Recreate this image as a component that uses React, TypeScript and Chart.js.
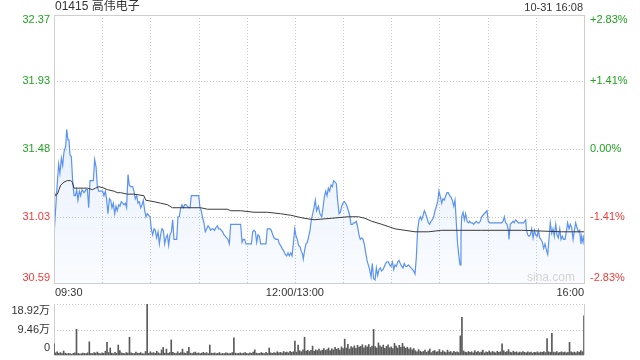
import React, { useEffect, useRef } from "react";
import { Chart, registerables } from "chart.js";

Chart.register(...registerables);

const TITLE = "01415 高伟电子";
const STAMP = "10-31 16:08";
const PRICE_MIN = 30.59;
const PRICE_MAX = 32.37;
const PRICE_TICKS = [32.37, 31.93, 31.48, 31.03, 30.59];
const PRICE_TICK_LABELS = ["32.37", "31.93", "31.48", "31.03", "30.59"];
const PCT_TICK_LABELS = ["+2.83%", "+1.41%", "0.00%", "-1.41%", "-2.83%"];
const TICK_UP = [true, true, true, false, false];
const TOTAL_MINUTES = 330;
const TIME_LABELS = ["09:30", "12:00/13:00", "16:00"];
const TIME_LABEL_MINUTES = [0, 150, 330];
const GRID_MINUTES = [30, 60, 90, 120, 150, 180, 210, 240, 270, 300];
const VOL_MAX = 18.92;
const VOL_TICKS = [18.92, 9.46, 0];
const VOL_TICK_LABELS = ["18.92万", "9.46万", "0"];

const priceMinutes = [
  0, 1.7, 2.9, 3.7, 4.6, 5.4, 6.2, 7.3, 7.9, 8.7, 9.3, 10.0, 10.8, 11.6, 12.5, 13.3, 14.1, 14.9, 15.8, 16.6,
  17.4, 18.7, 19.9, 20.8, 21.6, 22.4, 23.7, 24.5, 25.3, 26.2, 27.0, 27.8, 29.1, 30.3, 31.1, 32.0, 32.8, 33.6, 34.5, 35.3,
  36.1, 36.9, 37.8, 38.6, 39.4, 40.3, 41.1, 41.9, 42.8, 43.6, 44.4, 45.2, 46.1, 46.9, 47.7, 49.0, 49.8, 50.6, 51.5, 52.3,
  53.1, 54.0, 54.8, 55.6, 56.5, 57.3, 58.1, 58.9, 59.8, 60.6, 61.4, 62.3, 63.1, 63.9, 64.8, 65.6, 66.4, 67.2, 68.1, 68.9,
  69.7, 70.6, 71.4, 72.2, 73.1, 73.9, 74.7, 75.5, 76.4, 77.2, 78.0, 78.9, 79.7, 80.5, 81.4, 82.2, 83.0, 83.9, 84.7, 85.5,
  87.2, 88.8, 90.1, 90.9, 91.7, 92.6, 93.4, 94.2, 95.1, 95.9, 96.7, 97.5, 98.4, 99.2, 100.0, 100.9, 101.7, 102.5, 103.4, 104.2,
  105.0, 105.9, 106.7, 107.5, 108.3, 109.2, 110.0, 112.1, 114.2, 116.2, 117.1, 117.9, 118.7, 119.5, 121.2, 122.9, 123.7, 124.5, 125.4, 126.2,
  127.0, 127.9, 128.7, 130.8, 132.0, 132.8, 134.5, 135.3, 136.2, 137.0, 138.2, 139.5, 140.3, 141.1, 142.0, 143.2, 144.0, 144.9, 145.7, 146.5,
  147.4, 148.2, 149.0, 149.9, 150.7, 151.5, 152.3, 153.2, 154.0, 154.8, 155.2, 156.1, 156.9, 157.7, 158.6, 159.4, 160.2, 161.1, 161.9, 162.7,
  163.5, 164.6, 165.6, 166.7, 167.5, 168.3, 169.2, 170.0, 170.8, 171.6, 172.5, 173.3, 174.1, 175.0, 175.8, 176.6, 177.5, 178.3, 179.1, 179.9,
  180.8, 181.6, 182.4, 183.3, 184.1, 184.9, 185.8, 186.6, 187.4, 188.2, 189.1, 189.9, 190.7, 191.6, 192.4, 193.2, 194.1, 194.9, 195.7, 196.5,
  197.4, 198.2, 199.0, 199.9, 200.7, 201.5, 202.4, 203.2, 204.0, 204.9, 205.7, 206.5, 207.3, 208.2, 209.0, 209.8, 210.7, 211.5, 212.3, 213.2,
  214.0, 214.8, 215.6, 216.5, 217.3, 218.1, 219.0, 219.8, 220.6, 221.5, 222.3, 223.1, 223.9, 224.8, 225.6, 226.4, 227.3, 228.1, 228.9, 229.8,
  230.6, 231.4, 232.3, 233.1, 233.9, 234.7, 235.6, 236.4, 237.2, 238.1, 238.9, 239.7, 240.6, 241.4, 242.2, 243.0, 243.9, 244.7, 245.5, 246.4,
  247.2, 248.0, 248.9, 249.7, 250.5, 251.3, 252.2, 252.8, 253.4, 253.8, 254.7, 255.5, 256.3, 257.2, 258.0, 258.8, 259.6, 260.5, 261.3, 262.1,
  263.0, 263.8, 264.6, 265.4, 266.3, 267.1, 267.9, 268.8, 269.6, 270.4, 271.3, 272.5, 273.8, 275.0, 276.2, 277.1, 277.9, 278.7, 279.6, 280.4,
  281.2, 282.1, 282.9, 283.3, 284.1, 285.0, 285.8, 286.6, 287.5, 288.3, 289.1, 289.9, 291.2, 292.4, 293.7, 294.1, 294.9, 295.8, 296.6, 297.4,
  298.3, 299.1, 299.9, 300.8, 301.6, 302.4, 303.2, 304.1, 304.9, 305.7, 306.6, 307.4, 308.2, 309.0, 309.9, 310.7, 311.5, 312.4, 313.2, 314.0,
  314.9, 315.7, 316.5, 317.3, 318.2, 319.0, 319.8, 320.7, 321.5, 322.3, 323.2, 324.0, 324.8, 325.6, 326.5, 327.3, 328.1, 328.5, 329.4, 330.0,
];

const prices = [
  30.90, 31.20, 31.38, 31.32, 31.42, 31.37, 31.46, 31.50, 31.61, 31.54, 31.54, 31.44, 31.43, 31.27, 31.17, 31.17, 31.21, 31.14, 31.20, 31.17,
  31.21, 31.19, 31.21, 31.21, 31.09, 31.27, 31.27, 31.27, 31.41, 31.36, 31.23, 31.20, 31.20, 31.20, 31.17, 31.20, 31.14, 31.05, 31.15, 31.14,
  31.09, 31.12, 31.05, 31.10, 31.07, 31.11, 31.10, 31.13, 31.12, 31.11, 31.12, 31.09, 31.31, 31.24, 31.23, 31.23, 31.20, 31.15, 31.17, 31.12,
  31.13, 31.09, 31.11, 31.14, 31.07, 31.03, 31.05, 31.04, 31.03, 30.95, 30.91, 30.95, 30.94, 30.89, 30.93, 30.85, 30.91, 30.95, 30.94, 30.85,
  30.89, 30.91, 30.84, 30.91, 30.93, 31.01, 30.88, 30.88, 30.88, 31.03, 31.03, 31.09, 31.11, 31.09, 31.11, 31.11, 31.10, 31.09, 31.09, 31.17,
  31.17, 31.17, 31.17, 31.09, 31.07, 31.02, 30.99, 30.93, 30.95, 30.97, 30.96, 30.94, 30.95, 30.95, 30.94, 30.96, 30.97, 30.95, 30.95, 30.94,
  30.93, 30.91, 30.90, 30.89, 30.88, 30.85, 30.98, 30.98, 30.98, 30.98, 30.86, 30.88, 30.88, 30.85, 30.85, 30.85, 30.93, 30.94, 30.93, 30.86,
  30.91, 30.90, 30.85, 30.85, 30.85, 30.95, 30.95, 30.94, 30.91, 30.89, 30.88, 30.88, 30.85, 30.84, 30.82, 30.80, 30.78, 30.77, 30.79, 30.77,
  30.79, 30.77, 30.85, 30.95, 30.90, 30.88, 30.84, 30.83, 30.80, 30.78, 30.75, 30.81, 30.85, 30.86, 30.90, 30.94, 31.01, 31.05, 31.09, 31.14,
  31.07, 31.10, 31.05, 31.03, 31.09, 31.16, 31.20, 31.17, 31.22, 31.20, 31.24, 31.23, 31.27, 31.26, 31.25, 31.14, 31.05, 31.06, 31.10, 31.12,
  31.13, 31.12, 31.10, 31.07, 31.04, 30.98, 30.98, 30.99, 30.99, 31.00, 30.96, 30.91, 30.88, 30.89, 30.88, 30.85, 30.79, 30.74, 30.71, 30.68,
  30.63, 30.72, 30.62, 30.61, 30.69, 30.64, 30.68, 30.69, 30.67, 30.68, 30.70, 30.72, 30.73, 30.73, 30.71, 30.70, 30.73, 30.68, 30.71, 30.70,
  30.73, 30.74, 30.72, 30.70, 30.69, 30.72, 30.70, 30.70, 30.71, 30.70, 30.69, 30.68, 30.67, 30.65, 30.76, 30.94, 31.01, 31.03, 31.01, 31.04,
  31.07, 31.05, 31.02, 30.99, 30.98, 31.00, 31.01, 31.03, 31.07, 31.10, 31.13, 31.20, 31.16, 31.12, 31.15, 31.14, 31.17, 31.19, 31.19, 31.17,
  31.16, 31.14, 31.10, 31.14, 30.99, 30.85, 30.76, 30.71, 30.90, 31.03, 31.06, 31.01, 31.05, 31.00, 30.99, 31.00, 30.99, 30.99, 30.98, 30.99,
  31.00, 30.99, 30.99, 31.00, 31.03, 31.04, 31.05, 31.06, 31.07, 31.00, 30.99, 30.99, 30.99, 30.99, 30.99, 30.99, 30.99, 30.99, 31.00, 31.03,
  30.99, 30.98, 30.94, 30.88, 30.98, 30.99, 31.00, 30.99, 31.01, 31.00, 30.99, 30.99, 30.99, 30.99, 31.01, 30.95, 30.91, 30.90, 30.91, 30.95,
  30.89, 30.94, 30.91, 30.90, 30.94, 30.89, 30.88, 30.86, 30.82, 30.85, 30.81, 30.78, 30.88, 30.99, 30.92, 30.95, 30.90, 30.98, 30.91, 30.89,
  30.95, 30.88, 30.90, 30.88, 30.88, 30.93, 30.99, 30.95, 30.98, 30.96, 30.88, 30.94, 30.99, 30.96, 30.93, 30.94, 30.85, 30.90, 30.86, 30.91,
];

const avgMinutes = [
  0, 1.0, 2.1, 3.1, 4.2, 6.2, 8.3, 10.4, 11.4, 12.5, 20.8, 23.9, 25.9, 28.0, 31.1, 33.2, 37.4, 39.4, 41.5, 45.7,
  49.8, 56.0, 57.1, 62.3, 66.4, 70.6, 73.7, 78.9, 91.3, 95.5, 99.6, 107.9, 110.0, 116.2, 124.5, 132.8, 141.1, 147.4, 151.5, 155.7,
  161.9, 172.9, 183.3, 189.5, 193.6, 197.8, 204.0, 212.3, 218.5, 224.8, 233.1, 241.4, 249.7, 253.8, 266.3, 291.2, 316.1, 330.0,
];
const avgPrices = [
  31.20, 31.17, 31.18, 31.21, 31.24, 31.26, 31.27, 31.27, 31.26, 31.22, 31.22, 31.21, 31.22, 31.23, 31.22, 31.21, 31.20, 31.19, 31.19, 31.18,
  31.18, 31.17, 31.14, 31.13, 31.12, 31.11, 31.09, 31.09, 31.09, 31.08, 31.08, 31.08, 31.07, 31.07, 31.06, 31.06, 31.05, 31.04, 31.03, 31.02,
  31.01, 31.02, 31.03, 31.03, 31.02, 31.00, 30.98, 30.95, 30.94, 30.93, 30.93, 30.94, 30.94, 30.94, 30.94, 30.94, 30.93, 30.93,
];

// volume per minute (万股), minute 0 .. 330
const volumes = [
  4.1, 0.8, 1.2, 0.6, 0.9, 0.5, 1.5, 0.7, 0.4, 0.6,
  0.5, 0.3, 0.6, 0.8, 9.5, 0.6, 0.4, 0.5, 0.7, 0.6,
  0.5, 0.8, 4.9, 0.6, 0.5, 0.9, 0.7, 1.1, 0.6, 0.5,
  0.8, 0.6, 1.4, 4.7, 0.9, 2.6, 0.7, 0.5, 1.0, 0.6,
  3.7, 1.6, 0.8, 0.6, 0.5, 0.9, 0.7, 6.6, 0.8, 0.6,
  0.5, 1.1, 0.7, 0.6, 0.9, 0.5, 0.4, 1.3, 18.92, 0.6,
  1.2, 0.7, 0.9, 0.6, 1.4, 0.8, 0.5, 1.9, 2.8, 0.7,
  2.2, 0.6, 0.9, 5.6, 1.0, 0.7, 0.5, 1.2, 0.6, 0.9,
  2.2, 0.8, 0.6, 1.3, 2.8, 0.7, 0.5, 0.9, 1.1, 0.6,
  0.8, 0.5, 0.7, 1.0, 0.6, 0.9, 0.5, 3.7, 0.7, 0.6,
  0.8, 0.5, 0.6, 0.9, 0.4, 0.6, 0.5, 0.8, 0.7, 0.5,
  0.6, 0.9, 6.4, 0.7, 0.5, 0.6, 0.8, 0.5, 0.7, 0.9,
  0.6, 0.5, 0.8, 0.6, 1.1, 1.9, 0.7, 0.5, 0.6, 0.9,
  0.7, 0.5, 1.0, 0.6, 2.6, 0.8, 0.6, 0.9, 0.7, 1.2,
  0.8, 1.0, 0.7, 1.3, 0.9, 1.1, 0.8, 1.4, 1.0, 1.2,
  5.2, 1.1, 3.7, 1.6, 1.2, 1.9, 6.6, 1.5, 1.8, 1.3,
  1.7, 3.3, 1.4, 1.9, 1.6, 2.2, 1.5, 1.8, 2.4, 1.7,
  2.0, 2.6, 1.6, 2.3, 1.9, 2.8, 2.1, 2.5, 1.8, 3.0,
  2.4, 5.9, 2.6, 4.0, 2.2, 3.1, 2.7, 3.4, 2.5, 3.6,
  2.9, 3.2, 3.8, 2.7, 3.5, 3.0, 3.9, 2.8, 3.3, 9.5,
  3.1, 2.6, 4.5, 3.4, 2.9, 3.7, 2.5, 3.2, 3.8, 2.7,
  3.0, 2.4, 4.3, 3.3, 2.6, 3.6, 2.8, 4.3, 3.1, 2.5,
  2.9, 2.2, 2.7, 1.9, 2.4, 1.6, 1.2, 2.0, 1.4, 1.1,
  1.3, 1.8, 1.0, 1.5, 2.2, 0.9, 1.4, 1.7, 1.1, 1.3,
  2.0, 1.0, 1.6, 1.2, 0.9, 1.8, 1.1, 1.3, 0.8, 1.4,
  1.0, 1.2, 0.9, 7.1, 14.0, 1.5, 1.1, 0.9, 1.3, 1.0,
  1.2, 0.8, 1.6, 1.0, 1.4, 0.9, 1.1, 1.8, 0.8, 1.2,
  1.0, 1.5, 0.9, 1.3, 1.1, 0.8, 1.4, 1.0, 1.2, 4.1,
  1.6, 1.0, 1.3, 2.0, 1.1, 0.9, 1.4, 1.0, 1.2, 0.8,
  1.1, 0.9, 1.3, 1.0, 0.8, 1.2, 0.9, 1.1, 0.7, 1.0,
  0.9, 1.2, 0.8, 1.1, 1.0, 1.3, 0.9, 6.1, 1.2, 1.0,
  8.0, 1.1, 0.9, 1.3, 0.8, 1.0, 1.2, 0.9, 1.1, 0.8,
  1.0, 4.7, 1.2, 0.9, 1.1, 0.8, 1.3, 1.0, 1.6, 1.2,
  14.5,
];

const FONT = '"Liberation Sans", Arial, "Noto Sans CJK SC", sans-serif';
const GREEN = "#1fa31f";
const RED = "#f23a3a";
const GRID = "#c9c9c9";
const BORDER = "#cfcfcf";
const TEXT = "#333333";

function crisp(v: number) {
  return Math.round(v) + 0.5;
}

const priceDecor = {
  id: "priceDecor",
  beforeDatasetsDraw(chart: any) {
    const { ctx, chartArea: a, scales } = chart;
    const x = scales.x;
    const y = scales.y;
    ctx.save();
    ctx.strokeStyle = GRID;
    ctx.lineWidth = 1;
    ctx.setLineDash([1, 2]);
    for (const m of GRID_MINUTES) {
      const px = crisp(x.getPixelForValue(m));
      ctx.beginPath();
      ctx.moveTo(px, a.top);
      ctx.lineTo(px, a.bottom);
      ctx.stroke();
    }
    for (let i = 1; i < PRICE_TICKS.length - 1; i++) {
      const py = crisp(y.getPixelForValue(PRICE_TICKS[i]));
      ctx.beginPath();
      ctx.moveTo(a.left, py);
      ctx.lineTo(a.right, py);
      ctx.stroke();
    }
    ctx.restore();
  },
  afterDatasetsDraw(chart: any) {
    const { ctx, chartArea: a, scales } = chart;
    const x = scales.x;
    const y = scales.y;
    ctx.save();
    ctx.setLineDash([]);
    ctx.strokeStyle = BORDER;
    ctx.lineWidth = 1;
    ctx.strokeRect(crisp(a.left), crisp(a.top), Math.round(a.right - a.left), Math.round(a.bottom - a.top));

    ctx.font = "12px " + FONT;
    ctx.fillStyle = "#d3d3d3";
    ctx.textAlign = "right";
    ctx.textBaseline = "middle";
    ctx.fillText("sina.com", a.right - 9, a.bottom - 5);

    ctx.font = "11px " + FONT;
    for (let i = 0; i < PRICE_TICKS.length; i++) {
      let py = y.getPixelForValue(PRICE_TICKS[i]);
      if (i === 0) py += 5;
      if (i === PRICE_TICKS.length - 1) py -= 5;
      ctx.fillStyle = TICK_UP[i] ? GREEN : RED;
      ctx.textAlign = "right";
      ctx.fillText(PRICE_TICK_LABELS[i], a.left - 4, py);
      ctx.textAlign = "left";
      ctx.fillText(PCT_TICK_LABELS[i], a.right + 6, py);
    }

    ctx.fillStyle = TEXT;
    for (let i = 0; i < TIME_LABELS.length; i++) {
      const px = x.getPixelForValue(TIME_LABEL_MINUTES[i]);
      ctx.textAlign = i === 0 ? "left" : i === TIME_LABELS.length - 1 ? "right" : "center";
      ctx.fillText(TIME_LABELS[i], i === 0 ? px + 1 : px, a.bottom + 10);
    }

    ctx.font = "12px " + FONT;
    ctx.textAlign = "left";
    ctx.fillText(TITLE, a.left + 1, 7);
    ctx.font = "11px " + FONT;
    ctx.textAlign = "right";
    ctx.fillText(STAMP, a.right - 1, 8);
    ctx.restore();
  },
};

const volDecor = {
  id: "volDecor",
  beforeDatasetsDraw(chart: any) {
    const { ctx, chartArea: a, scales } = chart;
    const y = scales.y;
    ctx.save();
    ctx.strokeStyle = GRID;
    ctx.lineWidth = 1;
    ctx.setLineDash([1, 2]);
    for (let i = 0; i < VOL_TICKS.length - 1; i++) {
      const py = crisp(y.getPixelForValue(VOL_TICKS[i]));
      ctx.beginPath();
      ctx.moveTo(a.left, py);
      ctx.lineTo(a.right, py);
      ctx.stroke();
    }
    ctx.setLineDash([]);
    ctx.strokeStyle = BORDER;
    ctx.beginPath();
    ctx.moveTo(crisp(a.left), a.top);
    ctx.lineTo(crisp(a.left), a.bottom);
    ctx.moveTo(crisp(a.right), a.top);
    ctx.lineTo(crisp(a.right), a.bottom);
    ctx.moveTo(a.left, crisp(a.bottom));
    ctx.lineTo(a.right, crisp(a.bottom));
    ctx.stroke();
    ctx.restore();
  },
  afterDatasetsDraw(chart: any) {
    const { ctx, chartArea: a, scales } = chart;
    const y = scales.y;
    ctx.save();
    ctx.font = "11px " + FONT;
    ctx.fillStyle = TEXT;
    ctx.textAlign = "right";
    ctx.textBaseline = "middle";
    for (let i = 0; i < VOL_TICKS.length; i++) {
      let py = y.getPixelForValue(VOL_TICKS[i]);
      if (i === 0) py += 7;
      if (i === VOL_TICKS.length - 1) py -= 7;
      ctx.fillText(VOL_TICK_LABELS[i], a.left - 4, py);
    }
    ctx.restore();
  },
};

export default function App() {
  const priceRef = useRef<HTMLCanvasElement>(null);
  const volRef = useRef<HTMLCanvasElement>(null);

  useEffect(() => {
    const priceChart = new Chart(priceRef.current as HTMLCanvasElement, {
      type: "line",
      data: {
        datasets: [
          {
            data: avgMinutes.map((m, i) => ({ x: m, y: avgPrices[i] })),
            borderColor: "#3a3a3a",
            borderWidth: 1,
            pointRadius: 0,
            fill: false,
            tension: 0,
          },
          {
            data: priceMinutes.map((m, i) => ({ x: m, y: prices[i] })),
            borderColor: "#5b93f2",
            borderWidth: 1.2,
            pointRadius: 0,
            tension: 0,
            fill: "start",
            backgroundColor: (c: any) => {
              const area = c.chart.chartArea;
              if (!area) return "rgba(90,145,240,0.1)";
              const g = c.chart.ctx.createLinearGradient(0, area.top, 0, area.bottom);
              g.addColorStop(0, "rgba(80,140,240,0.20)");
              g.addColorStop(1, "rgba(80,140,240,0.03)");
              return g;
            },
          },
        ],
      },
      options: {
        responsive: false,
        animation: false,
        devicePixelRatio: 1,
        layout: { padding: { left: 54, right: 56, top: 15, bottom: 17 } },
        plugins: { legend: { display: false }, tooltip: { enabled: false } },
        scales: {
          x: { type: "linear", min: 0, max: TOTAL_MINUTES, display: false },
          y: { type: "linear", min: PRICE_MIN, max: PRICE_MAX, display: false },
        },
      },
      plugins: [priceDecor],
    } as any);

    const volChart = new Chart(volRef.current as HTMLCanvasElement, {
      type: "bar",
      data: {
        datasets: [
          {
            data: volumes.map((v, i) => ({ x: i, y: v })),
            backgroundColor: "#5a5a5a",
            barThickness: 1,
            borderWidth: 0,
          },
        ],
      },
      options: {
        responsive: false,
        animation: false,
        devicePixelRatio: 1,
        layout: { padding: { left: 54, right: 56, top: 4, bottom: 5 } },
        plugins: { legend: { display: false }, tooltip: { enabled: false } },
        scales: {
          x: { type: "linear", min: 0, max: TOTAL_MINUTES, display: false, offset: false },
          y: { type: "linear", min: 0, max: VOL_MAX, display: false },
        },
      },
      plugins: [volDecor],
    } as any);

    return () => {
      priceChart.destroy();
      volChart.destroy();
    };
  }, []);

  return (
    <div style={{ position: "fixed", left: 0, top: 0, width: 640, height: 360, background: "#fff" }}>
      <canvas ref={priceRef} width={640} height={300} style={{ position: "absolute", left: 0, top: 0 }} />
      <canvas ref={volRef} width={640} height={60} style={{ position: "absolute", left: 0, top: 300 }} />
    </div>
  );
}
